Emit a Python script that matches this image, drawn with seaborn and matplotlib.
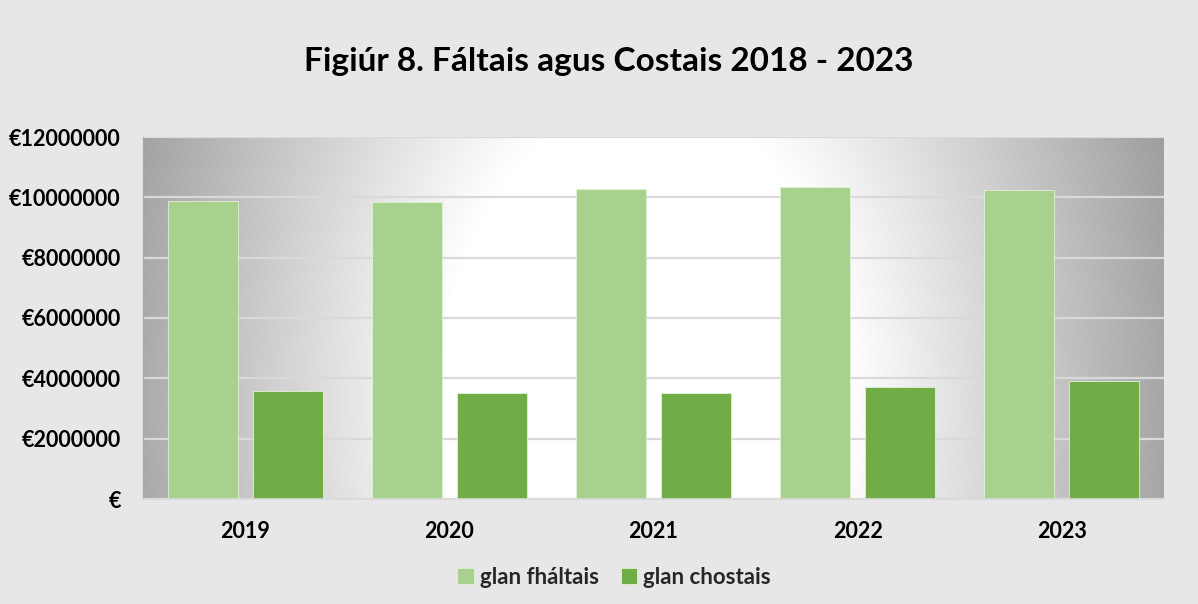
"""Figiúr 8 - Fáltais agus Costais 2018-2023, grouped bars with gradient plot area"""
import numpy as np
import pandas as pd
import matplotlib
matplotlib.use("Agg")
import matplotlib.pyplot as plt
import seaborn as sns

years = ["2019", "2020", "2021", "2022", "2023"]
glan_fhaltais = [9890000, 9860000, 10280000, 10340000, 10250000]
glan_chostais = [3580000, 3510000, 3530000, 3720000, 3920000]
series_labels = ["glan fháltais", "glan chostais"]
y_ticks = [0, 2000000, 4000000, 6000000, 8000000, 10000000, 12000000]
y_ticklabels = ["€", "€2000000", "€4000000", "€6000000", "€8000000", "€10000000", "€12000000"]

df = pd.DataFrame({
    "year": years * 2,
    "value": glan_fhaltais + glan_chostais,
    "series": [series_labels[0]] * len(years) + [series_labels[1]] * len(years),
})

sns.set_theme(style="white")
plt.rcParams["font.family"] = ["Lato", "DejaVu Sans"]
plt.rcParams["font.weight"] = "bold"

bg = "#e7e7e7"
W, H = 1198, 604
fig = plt.figure(figsize=(W / 100, H / 100), dpi=100, facecolor=bg)
left, right, top, bottom = 143, 1164, 137, 499
ax = fig.add_axes([left / W, 1 - bottom / H, (right - left) / W, (bottom - top) / H])
ax.set_facecolor("none")

# elliptical gradient behind the bars: white centre low in the middle, grey edges
pw, ph = right - left, bottom - top
xx, yy = np.meshgrid(np.arange(pw), np.arange(ph))
d = np.hypot((xx - (645 - left)) / 205, (yy - (400 - top)) / 303)
shade = 1 - np.clip((d - 1) / 1.5, 0, 1.1) * 0.34
ax.imshow(np.dstack([shade] * 3), extent=(0, 1, 0, 1), transform=ax.transAxes,
          aspect="auto", zorder=0, interpolation="bilinear")

sns.barplot(data=df, x="year", y="value", hue="series", hue_order=series_labels,
            palette=["#a9d18e", "#70ad47"], saturation=1, width=0.833, gap=0.176,
            edgecolor="#e3f0da", linewidth=0.6, ax=ax, zorder=2)

ax.set_ylim(0, 12000000)
ax.set_yticks(y_ticks)
ax.set_yticklabels(y_ticklabels, fontsize=15.5, fontweight="bold", color="#000000")
ax.set_xticks(range(len(years)))
ax.set_xticklabels(years, fontsize=15.5, fontweight="bold", color="#000000")
ax.tick_params(axis="both", length=0)
ax.tick_params(axis="x", pad=16)
ax.tick_params(axis="y", pad=16)
ax.set_xlabel("")
ax.set_ylabel("")
ax.set_axisbelow(True)
ax.yaxis.grid(True, color="#d9d9d9", linewidth=1.6, zorder=1)
for s in ["top", "right"]:
    ax.spines[s].set_visible(False)
ax.spines["left"].set_color("#a6a6a6")
ax.spines["left"].set_linewidth(0.8)
ax.spines["bottom"].set_color("#d9d9d9")
ax.spines["bottom"].set_linewidth(1.2)

fig.text(0.508, 1 - 61 / H, "Figiúr 8. Fáltais agus Costais 2018 - 2023",
         ha="center", va="center", fontsize=24, fontweight="bold", color="#000000")

handles, labels = ax.get_legend_handles_labels()
ax.legend(handles, labels, loc="center", bbox_to_anchor=(614 / W, 1 - 577 / H),
          bbox_transform=fig.transFigure, ncol=2, frameon=False,
          prop={"size": 16, "weight": "bold"}, handlelength=0.75, handleheight=0.75,
          handletextpad=0.25, columnspacing=1.0)

fig.savefig("out.png", dpi=100, facecolor=bg)
